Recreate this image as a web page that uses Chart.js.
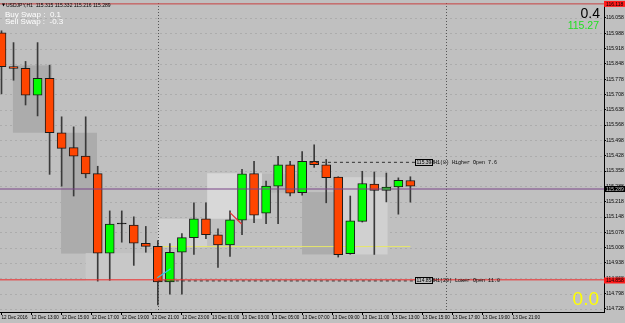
<!DOCTYPE html>
<html><head><meta charset="utf-8">
<script src="https://cdn.jsdelivr.net/npm/chart.js@4.4.1/dist/chart.umd.min.js"></script>
<style>html,body{margin:0;padding:0;background:#c0c0c0;overflow:hidden}#wrap{width:625px;height:323px}</style>
</head><body><div id="wrap"><canvas id="c" width="625" height="323"></canvas></div>
<script>
// ---- data (USDJPY, H1) ----
const opens  = [115.990,115.835,115.827,115.705,115.782,115.533,115.465,115.426,115.346,114.983,115.116,115.111,115.028,115.014,114.852,114.987,115.054,115.140,115.067,115.021,115.134,115.346,115.166,115.289,115.387,115.259,115.402,115.387,115.330,114.980,115.128,115.299,115.270,115.285,115.315];
const highs  = [115.999,115.945,115.859,115.945,115.842,115.606,115.560,115.606,115.380,115.176,115.176,115.149,115.105,115.040,115.027,115.072,115.213,115.213,115.094,115.176,115.366,115.402,115.312,115.425,115.402,115.447,115.478,115.411,115.332,115.244,115.357,115.354,115.349,115.327,115.332];
const lows   = [115.711,115.773,115.660,115.610,115.343,115.289,115.244,115.327,114.855,114.859,115.033,114.927,114.987,114.746,114.796,114.796,114.977,115.049,114.918,114.968,115.067,115.122,115.118,115.118,115.244,115.248,115.375,115.213,114.965,114.978,115.125,114.977,115.217,115.161,115.216];
const closes = [115.835,115.827,115.705,115.782,115.533,115.462,115.426,115.345,114.983,115.116,115.116,115.028,115.014,114.852,114.987,115.054,115.140,115.067,115.021,115.135,115.345,115.156,115.289,115.387,115.257,115.402,115.387,115.328,114.976,115.131,115.301,115.270,115.285,115.316,115.289];

const yTickValues = [114.728,114.798,114.868,114.938,115.008,115.078,115.148,115.218,115.288,115.358,115.428,115.498,115.568,115.638,115.708,115.778,115.848,115.918,115.988,116.058];
const xTickBars   = [0,2.5,5,7.5,10,12.5,15,17.5,20,22.5,25,27.5,30,32.5,35,37.5,40,42.5];
const xTickLabels = ["12 Dec 2016","12 Dec 13:00","12 Dec 15:00","12 Dec 17:00","12 Dec 19:00","12 Dec 21:00","12 Dec 23:00","13 Dec 01:00","13 Dec 03:00","13 Dec 05:00","13 Dec 07:00","13 Dec 09:00","13 Dec 11:00","13 Dec 13:00","13 Dec 15:00","13 Dec 17:00","13 Dec 19:00","13 Dec 21:00"];
const separatorBars = [13, 37];

// shaded boxes
const boxFrom  = [0.95, 4.95, 7.0, 13.0, 17.1, 21.66, 24.99, 28.15];
const boxTo    = [4.2, 7.94, 13.0, 17.1, 21.66, 24.99, 28.15, 32.1];
const boxLow   = [115.533, 114.981, 114.858, 115.009, 115.140, 115.259, 114.977, 114.977];
const boxHigh  = [115.841, 115.533, 114.983, 115.140, 115.348, 115.345, 115.262, 115.330];
const boxKind  = ["dark","dark","faint","light","lighter","mid","dark","light"];

// levels
const bidPrice = 115.276, bidLabel = "115.289";
const topLinePrice = 116.122, topLineLabel = "116.118";
const lowerOpenPrice = 114.858, lowerOpenLabel = "114.858", lowerOpenText = "H1(20) Lower Open 11.0";
const higherOpenPrice = 115.398, higherOpenLabel = "115.398", higherOpenText = "H1(8) Higher Open 7.6";
const yellowLevel = 115.013;
const cyanSeg = [[12.96,114.871],[14.07,114.912]];
const redSeg  = [[19.0,115.168],[19.97,115.116]];
const headerText = "USDJPY,H1  115.315 115.332 115.216 115.289";

const xMin = -0.125, xMax = 50.1, yMin = 114.714, yMax = 116.126;

// ---- build ----
const idx = opens.map((_, i) => i);
const bodyData = idx.map(i => ({x: i, y: [opens[i], closes[i]]}));
const wickData = idx.map(i => ({x: i, y: [lows[i], highs[i]]}));
const bodyColors = idx.map(i => closes[i] > opens[i] ? '#00ff00' : (closes[i] < opens[i] ? '#ff4500' : '#000000'));

function seg(points, color, dash, order, width) {
  return {type:'line', data: points.map(p => ({x:p[0], y:p[1]})), borderColor: color, borderWidth: width||1,
    borderDash: dash||[], pointRadius: 0, order: order, fill:false, tension:0};
}

const datasets = [
  {type:'bar', data: bodyData, backgroundColor: bodyColors, borderColor:'#1a1a1a', borderWidth:1,
   borderSkipped:false, barThickness:9, grouped:false, minBarLength:1, order:2},
  {type:'bar', data: wickData, backgroundColor:'#3a3a3a', borderWidth:0, barThickness:1, grouped:false, order:3},
  seg([[13,yellowLevel],[34,yellowLevel]], '#e6e66a', [], 4, 1),
  seg([[xMin,bidPrice],[xMax,bidPrice]], '#7a4488', [], 0, 1),
  seg([[xMin,topLinePrice],[xMax,topLinePrice]], '#c84040', [], 0, 1),
  seg([[xMin,lowerOpenPrice+0.003],[xMax,lowerOpenPrice+0.003]], '#ee2a2a', [], 0, 1),
  seg([[13,lowerOpenPrice-0.002],[34.38,lowerOpenPrice-0.002]], '#303030', [3,3], 0, 1),
  seg([[25.65,higherOpenPrice],[34.38,higherOpenPrice]], '#303030', [3,3], 0, 1),
  seg(cyanSeg, '#2ec8e8', [], 0, 1.2),
  seg(redSeg, '#e83030', [], 0, 1.2)
];

const boxColors = {dark:'#acacac', mid:'#b8b8b8', faint:'#c8c8c8', light:'#d0d0d0', lighter:'#d8d8d8'};

const bgPlugin = {
  id:'bg',
  beforeDraw(chart) {
    const c = chart.ctx; c.save(); c.fillStyle = '#c0c0c0'; c.fillRect(0,0,chart.width,chart.height); c.restore();
  },
  beforeDatasetsDraw(chart) {
    const c = chart.ctx, a = chart.chartArea, xs = chart.scales.x, ys = chart.scales.y;
    c.save();
    c.beginPath(); c.rect(a.left, a.top, a.right-a.left, a.bottom-a.top); c.clip();
    c.strokeStyle = '#acacac'; c.lineWidth = 1; c.setLineDash([2,3]);
    yTickValues.forEach(v => { const y = Math.round(ys.getPixelForValue(v)) + 0.5;
      c.beginPath(); c.moveTo(a.left, y); c.lineTo(a.right, y); c.stroke(); });
    c.setLineDash([]);
    boxFrom.forEach((f, i) => {
      const x0 = xs.getPixelForValue(f), x1 = xs.getPixelForValue(boxTo[i]);
      const y0 = ys.getPixelForValue(boxHigh[i]), y1 = ys.getPixelForValue(boxLow[i]);
      c.fillStyle = boxColors[boxKind[i]]; c.fillRect(x0, y0, x1-x0, y1-y0);
    });
    c.strokeStyle = '#555555'; c.setLineDash([1,2]);
    separatorBars.forEach(b => { const x = Math.round(xs.getPixelForValue(b)) + 0.5;
      c.beginPath(); c.moveTo(x, a.top); c.lineTo(x, a.bottom); c.stroke(); });
    c.restore();
  },
  afterDraw(chart) {
    const c = chart.ctx, a = chart.chartArea, xs = chart.scales.x, ys = chart.scales.y;
    c.save();
    c.fillStyle = '#000'; c.beginPath(); c.moveTo(2,3.5); c.lineTo(5,3.5); c.lineTo(3.5,6.5); c.closePath(); c.fill();
    c.font = '5px "Liberation Sans"'; c.textBaseline = 'middle'; c.textAlign = 'left';
    c.fillText(headerText, 6, 5.5);
    c.fillStyle = '#ffffff'; c.font = '8px "Liberation Sans"'; c.textBaseline = 'alphabetic';
    c.fillText('Buy Swap :  0.1', 5, 16.5);
    c.fillText('Sell Swap :  -0.3', 5, 23.5);
    c.textAlign = 'right';
    c.fillStyle = '#000'; c.font = '14px "Liberation Sans"'; c.fillText('0.4', 600, 18);
    c.fillStyle = '#22e022'; c.font = '10.5px "Liberation Sans"'; c.fillText('115.27', 599, 28.5);
    c.fillStyle = '#ffff00'; c.font = '19px "Liberation Sans"'; c.fillText('0.0', 599, 305);
    function lineLabel(price, label, text) {
      const x = xs.getPixelForValue(34.38), y = ys.getPixelForValue(price);
      c.fillStyle = '#c0c0c0'; c.fillRect(x, y-3, 17, 6);
      c.strokeStyle = '#000'; c.lineWidth = 1; c.strokeRect(Math.round(x)+0.5, Math.round(y-3)+0.5, 17, 6);
      c.fillStyle = '#000'; c.font = '5px "Liberation Sans"'; c.textAlign = 'left'; c.textBaseline = 'middle';
      c.fillText(label, x+1.5, y+0.5);
      c.font = '5px "Liberation Mono"'; c.fillText(text, x+19, y+0.5);
    }
    lineLabel(higherOpenPrice, higherOpenLabel, higherOpenText);
    lineLabel(lowerOpenPrice, lowerOpenLabel, lowerOpenText);
    function axisBox(price, label, bg, fg) {
      const y = ys.getPixelForValue(price);
      c.fillStyle = bg; c.fillRect(a.right, y-3, 625-a.right, 6);
      c.fillStyle = fg; c.font = '5px "Liberation Sans"'; c.textAlign = 'left'; c.textBaseline = 'middle';
      c.fillText(label, a.right+2, y+0.5);
    }
    axisBox(bidPrice, bidLabel, '#000000', '#d0d0d0');
    axisBox(lowerOpenPrice, lowerOpenLabel, '#ff1a1a', '#000000');
    axisBox(topLinePrice, topLineLabel, '#ff1a1a', '#000000');
    c.restore();
  }
};

new Chart(document.getElementById('c').getContext('2d'), {
  type: 'bar',
  data: { datasets },
  options: {
    responsive:false, animation:false, devicePixelRatio:1,
    layout:{padding:0},
    plugins:{legend:{display:false}, tooltip:{enabled:false}},
    scales:{
      x:{type:'linear', position:'bottom', min:xMin, max:xMax, offset:false,
        grid:{display:true, drawOnChartArea:false, drawTicks:true, tickLength:3, tickColor:'#000', offset:false},
        border:{display:true, color:'#000', width:1},
        ticks:{autoSkip:false, maxRotation:0, minRotation:0, align:'start', padding:0, color:'#000',
          font:{family:'Liberation Sans', size:4.6}, callback:(v,i)=> xTickLabels[i] !== undefined ? xTickLabels[i] : ''},
        afterBuildTicks: s => { s.ticks = xTickBars.map(v => ({value:v})); },
        afterFit: s => { s.height = 11; }
      },
      y:{type:'linear', position:'right', min:yMin, max:yMax, beginAtZero:false,
        grid:{display:true, drawOnChartArea:false, drawTicks:true, tickLength:2, tickColor:'#000'},
        border:{display:true, color:'#000', width:1},
        ticks:{autoSkip:false, padding:0, color:'#000', font:{family:'Liberation Sans', size:5},
          callback: v => Number(v).toFixed(3)},
        afterBuildTicks: s => { s.ticks = yTickValues.map(v => ({value:v})); },
        afterFit: s => { s.width = 21; }
      }
    }
  },
  plugins:[bgPlugin]
});
</script></body></html>
